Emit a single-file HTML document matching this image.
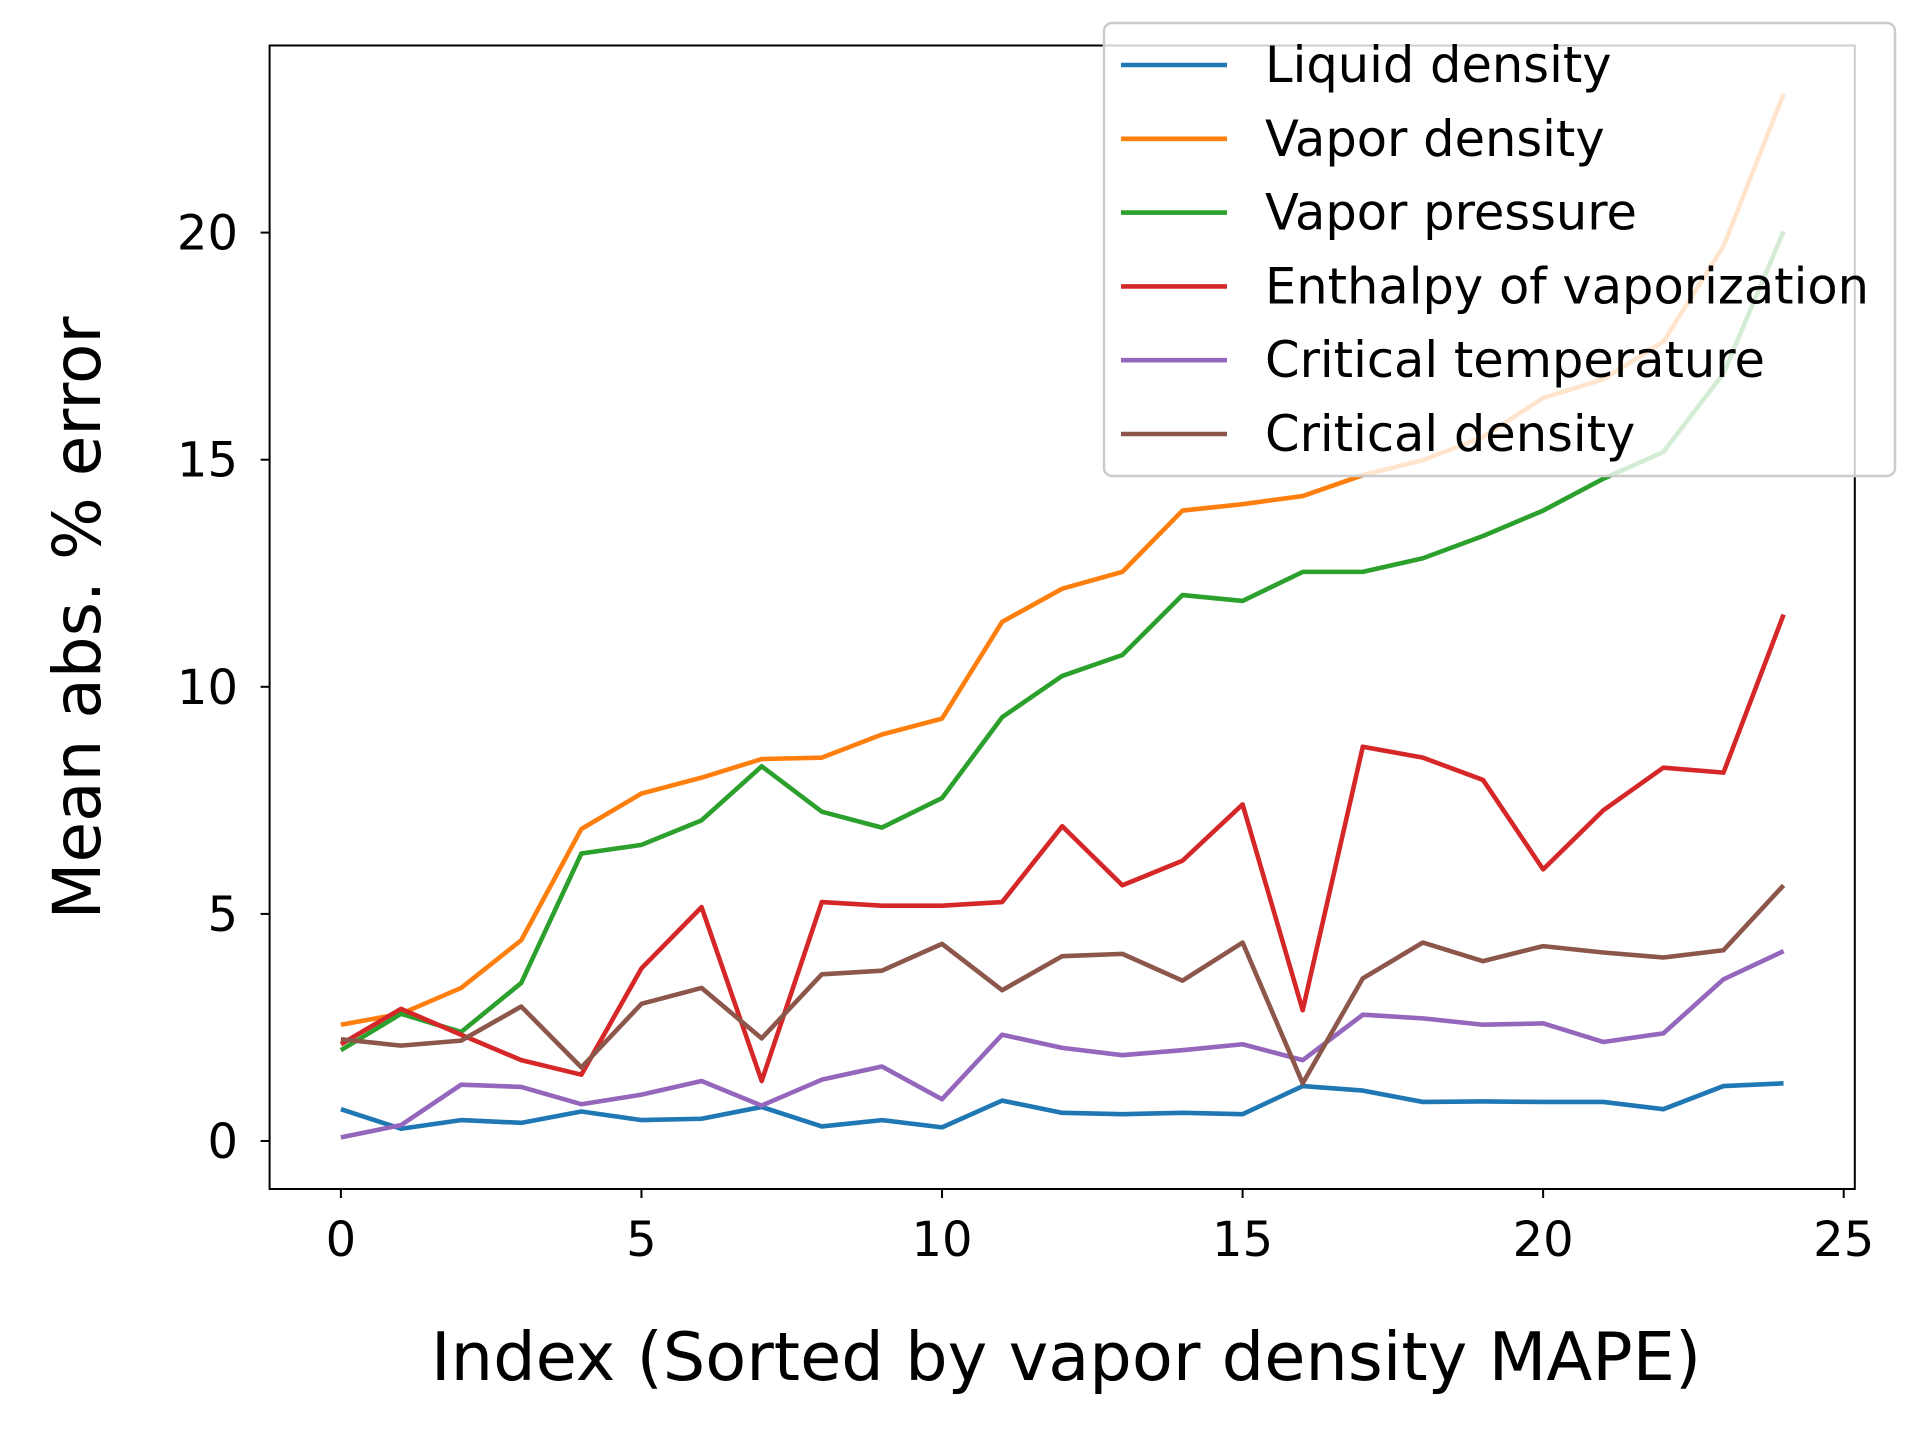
<!DOCTYPE html>
<html><head><meta charset="utf-8"><style>
html,body{margin:0;padding:0;background:#fff;}
svg{display:block;font-family:"DejaVu Sans","Liberation Sans",sans-serif;}
</style></head><body>
<svg id="chart" width="1920" height="1440" viewBox="0 0 1920 1440" xmlns="http://www.w3.org/2000/svg">
<rect width="1920" height="1440" fill="#fff"/>
<g id="lines"></g>
<rect x="269.6" y="45.5" width="1585.2" height="1143.5" fill="none" stroke="#000" stroke-width="2"/>
<g id="ticks"></g>
<text transform="translate(100,618) rotate(-90)" text-anchor="middle" font-size="66">Mean abs. % error</text>
<text x="1066" y="1380" text-anchor="middle" font-size="67">Index (Sorted by vapor density MAPE)</text>
<g id="legend"></g>
</svg>
<script>
const seriesNames = ["Liquid density","Vapor density","Vapor pressure","Enthalpy of vaporization","Critical temperature","Critical density"];
const seriesColors = ["#1f77b4","#ff7f0e","#2ca02c","#d62728","#9467bd","#8c564b"];
const liquidDensity = [0.7,0.27,0.46,0.4,0.65,0.46,0.49,0.75,0.32,0.46,0.3,0.89,0.62,0.59,0.62,0.59,1.21,1.11,0.86,0.87,0.86,0.86,0.7,1.21,1.27];
const vaporDensity = [2.56,2.8,3.37,4.42,6.87,7.65,8.0,8.41,8.44,8.95,9.3,11.43,12.16,12.53,13.88,14.02,14.2,14.66,14.99,15.5,16.36,16.77,17.6,19.7,23.05];
const vaporPressure = [2.0,2.8,2.4,3.48,6.33,6.52,7.06,8.25,7.25,6.9,7.55,9.33,10.24,10.7,12.02,11.89,12.53,12.53,12.83,13.32,13.88,14.58,15.17,16.9,20.03];
const enthalpy = [2.13,2.91,2.34,1.78,1.46,3.8,5.15,1.32,5.26,5.18,5.18,5.26,6.93,5.63,6.17,7.41,2.88,8.68,8.44,7.95,5.98,7.28,8.22,8.11,11.59];
const criticalTemp = [0.08,0.35,1.24,1.19,0.81,1.02,1.32,0.78,1.35,1.64,0.92,2.34,2.05,1.89,2.0,2.13,1.78,2.78,2.7,2.56,2.59,2.18,2.37,3.56,4.18];
const criticalDensity = [2.24,2.1,2.21,2.96,1.62,3.02,3.37,2.26,3.67,3.75,4.34,3.32,4.07,4.12,3.53,4.37,1.27,3.58,4.37,3.96,4.29,4.15,4.04,4.2,5.63];
const xTicks = [0,5,10,15,20,25];
const yTicks = [0,5,10,15,20];

const allSeries = [liquidDensity,vaporDensity,vaporPressure,enthalpy,criticalTemp,criticalDensity];
const NS = "http://www.w3.org/2000/svg";
function xs(v){return 340.9 + v*(1843.7-340.9)/25;}
function ys(v){return 1141 - v*(1141-232.6)/20;}
const gL = document.getElementById("lines");
allSeries.forEach((s,i)=>{
  const p = document.createElementNS(NS,"polyline");
  p.setAttribute("points", s.map((v,j)=>xs(j)+","+ys(v)).join(" "));
  p.setAttribute("fill","none");
  p.setAttribute("stroke",seriesColors[i]);
  p.setAttribute("stroke-width","4.6");
  p.setAttribute("stroke-linejoin","round");
  
  
  gL.appendChild(p);
});
const gT = document.getElementById("ticks");
xTicks.forEach(t=>{
  const l=document.createElementNS(NS,"line");
  l.setAttribute("x1",xs(t));l.setAttribute("x2",xs(t));l.setAttribute("y1",1189);l.setAttribute("y2",1198);
  l.setAttribute("stroke","#000");l.setAttribute("stroke-width","2");
  
  
  gT.appendChild(l);
  const tx=document.createElementNS(NS,"text");
  tx.setAttribute("x",xs(t));tx.setAttribute("y",1256);tx.setAttribute("text-anchor","middle");tx.setAttribute("font-size","48");
  tx.textContent=t;
  
  
  gT.appendChild(tx);
});
yTicks.forEach(t=>{
  const l=document.createElementNS(NS,"line");
  l.setAttribute("x1",260.6);l.setAttribute("x2",269.6);l.setAttribute("y1",ys(t));l.setAttribute("y2",ys(t));
  l.setAttribute("stroke","#000");l.setAttribute("stroke-width","2");
  
  
  gT.appendChild(l);
  const tx=document.createElementNS(NS,"text");
  tx.setAttribute("x",238);tx.setAttribute("y",ys(t)+17);tx.setAttribute("text-anchor","end");tx.setAttribute("font-size","48");
  tx.textContent=t;
  
  
  gT.appendChild(tx);
});
const gG = document.getElementById("legend");
const box=document.createElementNS(NS,"rect");
box.setAttribute("x",1104);box.setAttribute("y",23);box.setAttribute("width",791);box.setAttribute("height",453);
box.setAttribute("rx",8);box.setAttribute("fill","#fff");box.setAttribute("fill-opacity","0.8");
box.setAttribute("stroke","#ccc");box.setAttribute("stroke-width","2.5");


gG.appendChild(box);
seriesNames.forEach((n,i)=>{
  const y=65+i*73.8;
  const l=document.createElementNS(NS,"line");
  l.setAttribute("x1",1121);l.setAttribute("x2",1227);l.setAttribute("y1",y);l.setAttribute("y2",y);
  l.setAttribute("stroke",seriesColors[i]);l.setAttribute("stroke-width","4.6");
  
  
  gG.appendChild(l);
  const tx=document.createElementNS(NS,"text");
  tx.setAttribute("x",1265);tx.setAttribute("y",y+17);tx.setAttribute("font-size","49.5");
  tx.textContent=n;
  
  
  gG.appendChild(tx);
});
</script>
</body></html>
